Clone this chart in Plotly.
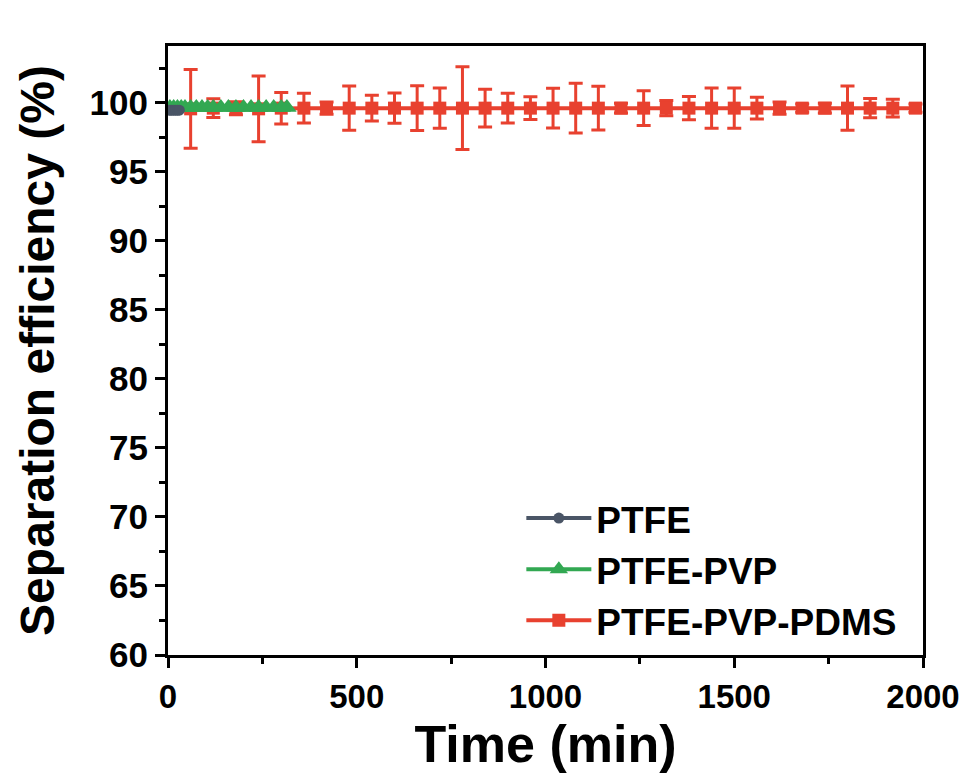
import plotly.graph_objects as go

# ---------------- data ----------------
ptfe_x = [5, 10, 15, 20, 25, 30]
ptfe_y = [99.45, 99.45, 99.45, 99.45, 99.45, 99.45]

pvp_x = [5, 15, 25, 35, 45, 60, 75, 90, 105, 120, 140, 160, 180, 200, 220, 240, 260, 280, 300, 315]
pvp_y = [99.65, 99.65, 99.65, 99.65, 99.65, 99.65, 99.65, 99.65, 99.65, 99.65,
         99.65, 99.65, 99.65, 99.65, 99.65, 99.65, 99.65, 99.65, 99.65, 99.65]

pdms_x = [60, 120, 180, 240, 300, 360, 420, 480, 540, 600, 660, 720, 780, 840, 900,
          960, 1020, 1080, 1140, 1200, 1260, 1320, 1380, 1440, 1500, 1560, 1620,
          1680, 1740, 1800, 1860, 1920, 1980]
pdms_y = [99.55, 99.6, 99.6, 99.55, 99.6, 99.6, 99.6, 99.6, 99.6, 99.6, 99.6, 99.6, 99.6,
          99.6, 99.6, 99.6, 99.6, 99.6, 99.6, 99.6, 99.6, 99.6, 99.6, 99.6, 99.6, 99.6,
          99.6, 99.6, 99.6, 99.6, 99.6, 99.6, 99.6]
pdms_err = [2.85, 0.68, 0.47, 2.38, 1.14, 1.08, 0.45, 1.6, 0.94, 1.1, 1.62, 1.45, 3.0,
            1.37, 1.08, 0.83, 1.44, 1.8, 1.59, 0.35, 1.26, 0.55, 0.84, 1.45, 1.45, 0.78,
            0.45, 0.3, 0.35, 1.6, 0.7, 0.65, 0.3]

x_ticks = [0, 500, 1000, 1500, 2000]
y_ticks = [60, 65, 70, 75, 80, 85, 90, 95, 100]

RED = "#E8412F"
GREEN = "#32A852"
GRAY = "#4A5566"

fig = go.Figure()
fig.add_trace(go.Scatter(
    x=pdms_x, y=pdms_y, name="PTFE-PVP-PDMS", mode="lines+markers",
    line=dict(color=RED, width=4),
    marker=dict(symbol="square", size=13, color=RED),
    error_y=dict(type="data", array=pdms_err, visible=True, color=RED,
                 thickness=3, width=7),
    legendrank=3,
))
fig.add_trace(go.Scatter(
    x=pvp_x, y=pvp_y, name="PTFE-PVP", mode="lines+markers",
    line=dict(color=GREEN, width=4),
    marker=dict(symbol="triangle-up", size=17, color=GREEN),
    legendrank=2,
))
fig.add_trace(go.Scatter(
    x=ptfe_x, y=ptfe_y, name="PTFE", mode="lines+markers",
    line=dict(color=GRAY, width=4),
    marker=dict(symbol="circle", size=11, color=GRAY),
    legendrank=1,
))

axis_font = dict(family="Liberation Sans, Arial, sans-serif", color="black", weight="bold")

fig.update_layout(
    width=975, height=780,
    margin=dict(l=168, r=52, t=46, b=125),
    paper_bgcolor="white", plot_bgcolor="white",
    showlegend=True,
    legend=dict(
        x=0.468, y=0.275, xanchor="left", yanchor="top",
        font=dict(family="Liberation Sans, Arial, sans-serif", size=37, color="black", weight="bold"),
        bgcolor="rgba(0,0,0,0)", itemwidth=65, tracegroupgap=0,
    ),
    xaxis=dict(
        range=[0, 2000], tickvals=x_ticks, ticktext=[str(v) for v in x_ticks],
        showline=True, linecolor="black", linewidth=3, mirror=True,
        ticks="outside", ticklen=10, tickwidth=3, tickcolor="black",
        minor=dict(dtick=250, ticks="outside", ticklen=6, tickwidth=3, tickcolor="black"),
        showgrid=False, zeroline=False,
        tickfont=dict(size=33, **axis_font),
        title=dict(text="Time (min)", font=dict(size=52, **axis_font), standoff=12),
    ),
    yaxis=dict(
        range=[60, 104.1], tickvals=y_ticks, ticktext=[str(v) for v in y_ticks],
        showline=True, linecolor="black", linewidth=3, mirror=True,
        ticks="outside", ticklen=10, tickwidth=3, tickcolor="black",
        minor=dict(dtick=2.5, ticks="outside", ticklen=6, tickwidth=3, tickcolor="black"),
        showgrid=False, zeroline=False,
        tickfont=dict(size=35, **axis_font),
        title=dict(text="Separation efficiency (%)", font=dict(size=48, **axis_font), standoff=20),
    ),
)

fig.write_html("out.html")
